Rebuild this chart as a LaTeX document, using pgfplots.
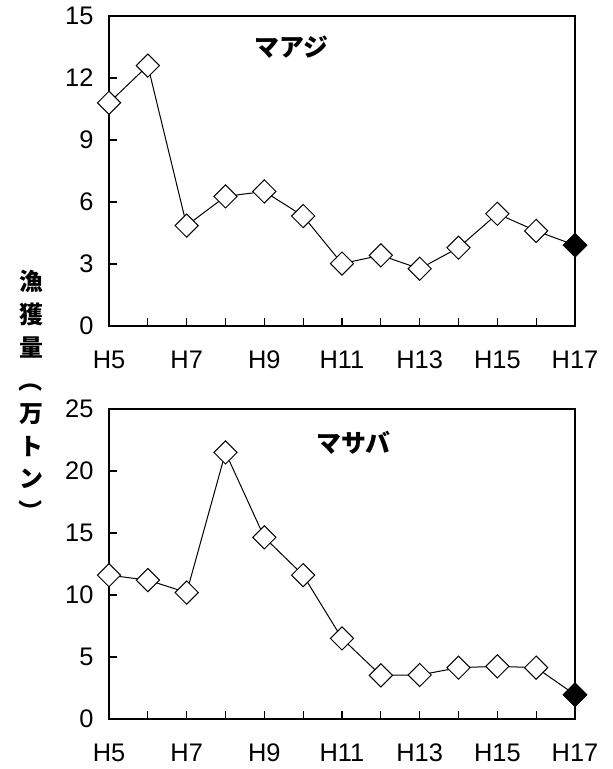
\documentclass[border=0pt]{standalone}
\usepackage{fontspec}
\setmainfont{Liberation Sans}
\newfontfamily\jp{Noto Sans CJK JP}
\usepackage{graphicx}
\usepackage{pgfplots}
\pgfplotsset{compat=1.18}
\pgfplotstableread{
x y
0 10.8
1 12.6
2 4.86
3 6.27
4 6.51
5 5.32
6 3.02
7 3.42
8 2.77
9 3.79
10 5.43
11 4.60
12 3.91
}\aji
\pgfplotstableread{
x y
0 11.6
1 11.2
2 10.2
3 21.5
4 14.65
5 11.6
6 6.5
7 3.52
8 3.55
9 4.14
10 4.25
11 4.14
12 1.96
}\saba
\pgfplotsset{
  panel/.style={
    scale only axis, width=466bp, height=310bp,
    xmin=0, xmax=12, ymin=0,
    xtick={0,...,12},
    xticklabels={H5,,H7,,H9,,H11,,H13,,H15,,H17},
    tick pos=left, tick align=inside,
    major tick length=8bp,
    axis line style={line width=1.2bp},
    every tick/.style={line width=1.1bp, black},
    /pgf/number format/assume math mode=true,
    tick label style={font=\fontsize{25.5}{28}\selectfont},
    xticklabel style={anchor=north, text height=18.3bp, text depth=0bp, yshift=-20.5bp},
    yticklabel style={xshift=-12bp},
    clip=false,
  },
  dataline/.style={black, line width=1bp, mark=square*, mark size=8.2bp,
    mark options={rotate=45, fill=white, line width=1bp, solid}},
  lastpt/.style={only marks, mark=square*, mark size=8.2bp,
    mark options={rotate=45, fill=black, draw=black, line width=1bp}},
}
\begin{document}
\begin{tikzpicture}
\useasboundingbox (0,0) rectangle (613bp,-769bp);
\begin{axis}[panel, at={(109bp,-326bp)}, anchor=south west,
  ymax=15, ytick={0,3,...,15}]
  \addplot[dataline] table[x=x,y=y]{\aji};
  \addplot[lastpt] coordinates {(12,3.91)};
  \node[font=\jp\bfseries\fontsize{25}{28}\selectfont] at (axis cs:4.69,13.5) {マアジ};
\end{axis}
\begin{axis}[panel, at={(109bp,-719bp)}, anchor=south west,
  ymax=25, ytick={0,5,...,25}]
  \addplot[dataline] table[x=x,y=y]{\saba};
  \addplot[lastpt] coordinates {(12,1.96)};
  \node[font=\jp\bfseries\fontsize{25}{28}\selectfont] at (axis cs:6.29,22.3) {マサバ};
\end{axis}
\node[font=\jp\bfseries\fontsize{24}{33}\selectfont, align=center, inner sep=0pt] at (31bp,-397bp)
  {漁\\獲\\量\\\rotatebox[origin=c]{-90}{（}\\万\\ト\\ン\\\rotatebox[origin=c]{-90}{）}};
\end{tikzpicture}
\end{document}
